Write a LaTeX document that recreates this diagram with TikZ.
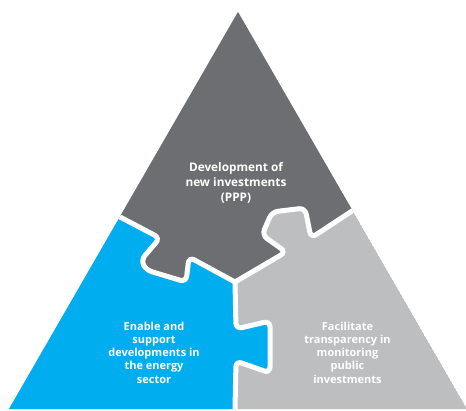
\documentclass[tikz,border=0pt]{standalone}
\usepackage{fontspec}
\setmainfont{Open Sans}
\definecolor{darkc}{HTML}{6D6E71}
\definecolor{bluec}{HTML}{00AEEF}
\definecolor{lightc}{HTML}{BCBEC0}
\begin{document}
\begin{tikzpicture}[x=1pt,y=-1pt,
  txt/.style={text=white,font=\bfseries\fontsize{11}{13.3}\selectfont,align=center,inner sep=0pt},
  ttxt/.style={txt,font=\bfseries\fontsize{11.8}{14.6}\selectfont},
  lb/.style={insert path={-- (60,185) -- (120,217) -- (160,238) -- (141,260) -- (146,270) -- (186,282) -- (189,257) -- (235,282)}},
  rb/.style={insert path={-- (286,252) -- (262,235) -- (272,212) -- (305,208) -- (311,238) -- (352,211) -- (412,172)}},
  vb/.style={insert path={-- (236,329) -- (270,321) -- (270,373) -- (236,361) -- (235,409) -- (235,430)}},
  gap/.style={draw=white,line width=5pt,rounded corners=6pt}
]
\useasboundingbox (0,0) rectangle (466,410);
\begin{scope}
\clip (238,12) -- (467,409) -- (9,409) -- cycle;
\fill[lightc] (238,12) -- (467,409) -- (9,409) -- cycle;
\fill[darkc,rounded corners=6pt] (40,-20) [lb] [rb] -- (440,-20) -- cycle;
\fill[bluec,rounded corners=6pt] (-20,170) [lb] [vb] -- (-20,430) -- cycle;
\draw[gap] (30,169) [lb];
\draw[gap] (235,282) [rb];
\draw[gap] (235,282) [vb];
\end{scope}
\node[ttxt] (ttop) at (236,183) {Development of\\new investments\\(PPP)};
\node[txt] (tleft) at (154,352.5) {Enable and\\support\\developments in\\the energy\\sector};
\node[txt] (tright) at (347.5,352.5) {Facilitate\\transparency in\\monitoring\\public\\investments};
\end{tikzpicture}
\end{document}
